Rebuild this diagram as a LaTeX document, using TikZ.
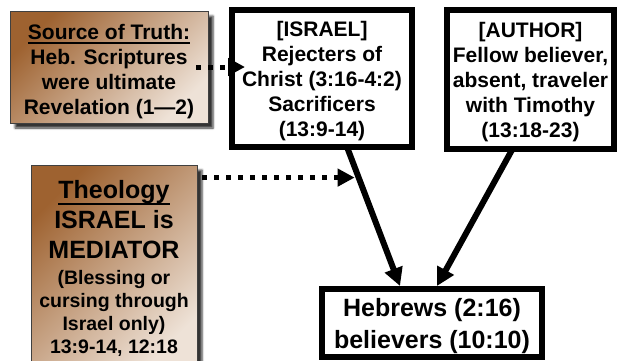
\documentclass[tikz,border=0pt]{standalone}
\usepackage{fontspec}
\setmainfont{Liberation Sans}
\usetikzlibrary{arrows.meta,shadows,shadows.blur}
\definecolor{brdark}{RGB}{158,98,48}
\definecolor{brlight}{RGB}{238,226,215}
\newcommand{\thickul}[2][4pt]{\setbox0\hbox{#2}\rlap{\copy0}\smash{\raisebox{-#1}{\rule{\wd0}{1.6pt}}}}
\newcommand{\lift}[1]{\rule{0pt}{#1}}
\tikzset{
  plainbox/.style={draw, line width=6pt, fill=white, inner sep=0pt, outer sep=0pt,
    align=center, font=\bfseries\fontsize{21}{25}\selectfont},
  brownbox/.style={draw=black!75, line width=0.8pt, top color=brdark, bottom color=brlight,
    shading angle=45, blur shadow={shadow xshift=5pt, shadow yshift=-5pt, shadow opacity=80},
    inner sep=0pt, outer sep=0pt, align=center, font=\bfseries\fontsize{21}{25}\selectfont},
  dotarrow/.style={line width=5pt, dash pattern=on 5pt off 7pt, -{Triangle[length=17pt,width=17pt]}},
  fullarrow/.style={line width=6pt, -{Triangle[length=18pt,width=18pt]}}
}
\begin{document}
\begin{tikzpicture}[x=1pt,y=-1pt]
    \useasboundingbox (0,0) rectangle (617,360);

    \node[brownbox, minimum width=198pt, minimum height=112pt] (src) at (109,67) {\lift{25pt}\thickul[4pt]{Source of Truth:}\\
      Heb. Scriptures\\
      were ultimate\\
      Revelation (1—2)};

    \node[brownbox, minimum width=166pt, minimum height=206pt,
      font=\bfseries\fontsize{25}{30}\selectfont] (theo) at (114,268) {\thickul[6.5pt]{Theology}\\
      ISRAEL is\\
      MEDIATOR\\[-4pt]
      {\fontsize{19.5}{23}\selectfont (Blessing or}\\[-7pt]
      {\fontsize{19.5}{23}\selectfont cursing through}\\[-7pt]
      {\fontsize{19.5}{23}\selectfont Israel only)}\\[-7pt]
      {\fontsize{19.5}{23}\selectfont 13:9-14, 12:18}};

    \node[plainbox, minimum width=180pt, minimum height=137pt] (isr) at (322,78.5) {\lift{21pt}[ISRAEL]\\
      Rejecters of\\
      Christ (3:16-4:2)\\
      Sacrificers\\
      (13:9-14)};

    \node[plainbox, minimum width=167pt, minimum height=139pt] (auth) at (530.5,79.5) {\lift{21pt}[AUTHOR]\\
      Fellow believer,\\
      absent, traveler\\
      with Timothy\\
      (13:18-23)};

    \node[plainbox, minimum width=220pt, minimum height=68pt,
      font=\bfseries\fontsize{25}{32}\selectfont] (heb) at (432,323) {\lift{24pt}Hebrews (2:16)\\
      believers (10:10)};

    % arrows into the readers' box
    \draw[fullarrow] ([xshift=25pt]isr.south) -- ([xshift=-32pt,yshift=3pt]heb.north)
      coordinate[pos=0.22] (meet);
    \draw[fullarrow] ([xshift=-18pt]auth.south) -- ([xshift=5pt,yshift=3pt]heb.north);

    % dotted influences
    \draw[dotarrow] ([xshift=-12pt]src.east) -- ([xshift=13pt]src.east -| isr.west);
    \draw[dotarrow] ([xshift=5pt]theo.east |- meet) -- ([xshift=-4pt]meet);

\end{tikzpicture}
\end{document}
